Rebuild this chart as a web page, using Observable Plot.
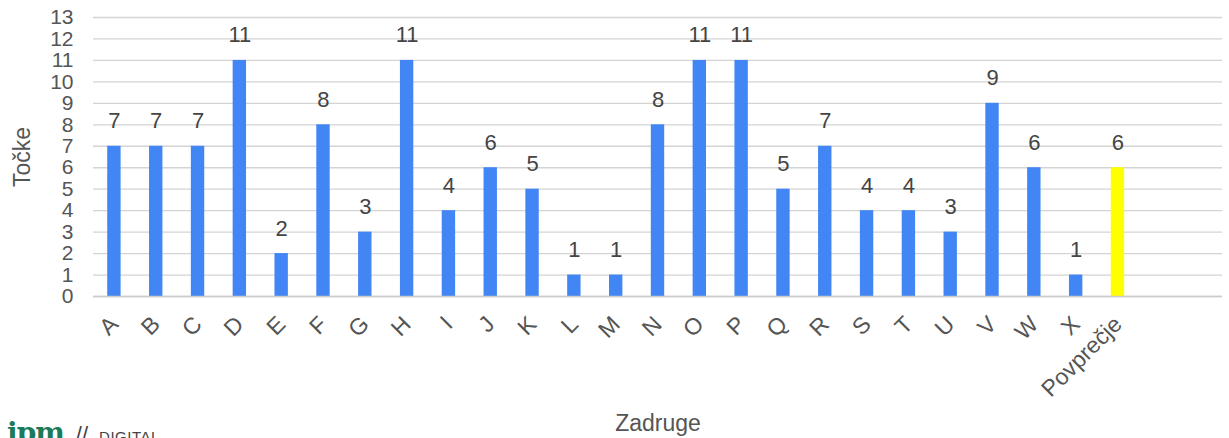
<!DOCTYPE html>
<html>
<head>
<meta charset="utf-8">
<script src="https://cdn.jsdelivr.net/npm/d3@7"></script>
<script src="https://cdn.jsdelivr.net/npm/@observablehq/plot@0.6"></script>
<style>
  html, body { margin: 0; padding: 0; background: #fff; }
  #wrap { position: relative; width: 1229px; height: 438px; overflow: hidden; }
  #logo { position: absolute; left: 7px; top: 416px; white-space: nowrap; }
  #logo .ipm { font-family: "DejaVu Serif", "Liberation Serif", serif; font-weight: bold; font-size: 28px; color: #1b7a5a; letter-spacing: -1px; }
  #logo .sl { font-family: "Liberation Sans", sans-serif; font-size: 22px; color: #444; margin-left: 12px; }
  #logo .dg { font-family: "Liberation Sans", sans-serif; font-size: 15px; color: #444; margin-left: 11px; letter-spacing: 0.5px; }
</style>
</head>
<body>
<div id="wrap"></div>
<script>
const categories = ["A","B","C","D","E","F","G","H","I","J","K","L","M","N","O","P","Q","R","S","T","U","V","W","X","Povprečje"];
const values = [7,7,7,11,2,8,3,11,4,6,5,1,1,8,11,11,5,7,4,4,3,9,6,1,6];
const kinds = ["zadruga","zadruga","zadruga","zadruga","zadruga","zadruga","zadruga","zadruga","zadruga","zadruga","zadruga","zadruga","zadruga","zadruga","zadruga","zadruga","zadruga","zadruga","zadruga","zadruga","zadruga","zadruga","zadruga","zadruga","povprecje"];
const yTicks = [0,1,2,3,4,5,6,7,8,9,10,11,12,13];
const yLabel = "Točke";
const xLabel = "Zadruge";

const data = categories.map((c, i) => ({cat: c, val: values[i], kind: kinds[i]}));

const W = 1229, H = 438;
const mL = 93, mR = 7, mT = 17, mB = 142;
const bandW = (W - mL - mR) / 27;

const chart = Plot.plot({
  width: W,
  height: H,
  marginLeft: mL,
  marginRight: mR,
  marginTop: mT,
  marginBottom: mB,
  style: {fontFamily: "'Liberation Sans', Arial, sans-serif", color: "#555", background: "#fff"},
  x: {domain: categories, range: [mL, mL + bandW * categories.length], paddingInner: 0.68, paddingOuter: 0.34, align: 0.5, round: false, label: null},
  y: {domain: [0, 13], label: null},
  color: {domain: ["zadruga", "povprecje"], range: ["#4285f4", "#ffff00"]},
  marks: [
    Plot.gridY(yTicks, {stroke: "#d4d4d4", strokeOpacity: 1, strokeWidth: 1.3}),
    Plot.axisY(yTicks, {tickSize: 0, tickPadding: 20, fontSize: 21, fill: "#555", label: null}),
    Plot.barY(data, {x: "cat", y: "val", fill: "kind"}),
    Plot.ruleY([0], {stroke: "#cccccc", strokeWidth: 1.3}),
    Plot.text(data, {x: "cat", y: "val", text: d => String(d.val), dy: -25, fontSize: 22, fill: "#444"}),
    Plot.axisX({tickSize: 0, tickRotate: -45, tickPadding: 14, dx: 0, dy: 10, fontSize: 23, fill: "#555", label: null}),
    Plot.text([yLabel], {frameAnchor: "left", textAnchor: "middle", dx: -71, rotate: -90, fontSize: 23, fill: "#555"}),
    Plot.text([xLabel], {frameAnchor: "bottom", textAnchor: "middle", dy: 134, fontSize: 23, fill: "#555"})
  ]
});

const wrap = document.getElementById("wrap");
wrap.appendChild(chart);
const logo = document.createElement("div");
logo.id = "logo";
logo.innerHTML = '<span class="ipm">ipm</span><span class="sl">//</span><span class="dg">DIGITAL</span>';
wrap.appendChild(logo);
</script>
</body>
</html>
